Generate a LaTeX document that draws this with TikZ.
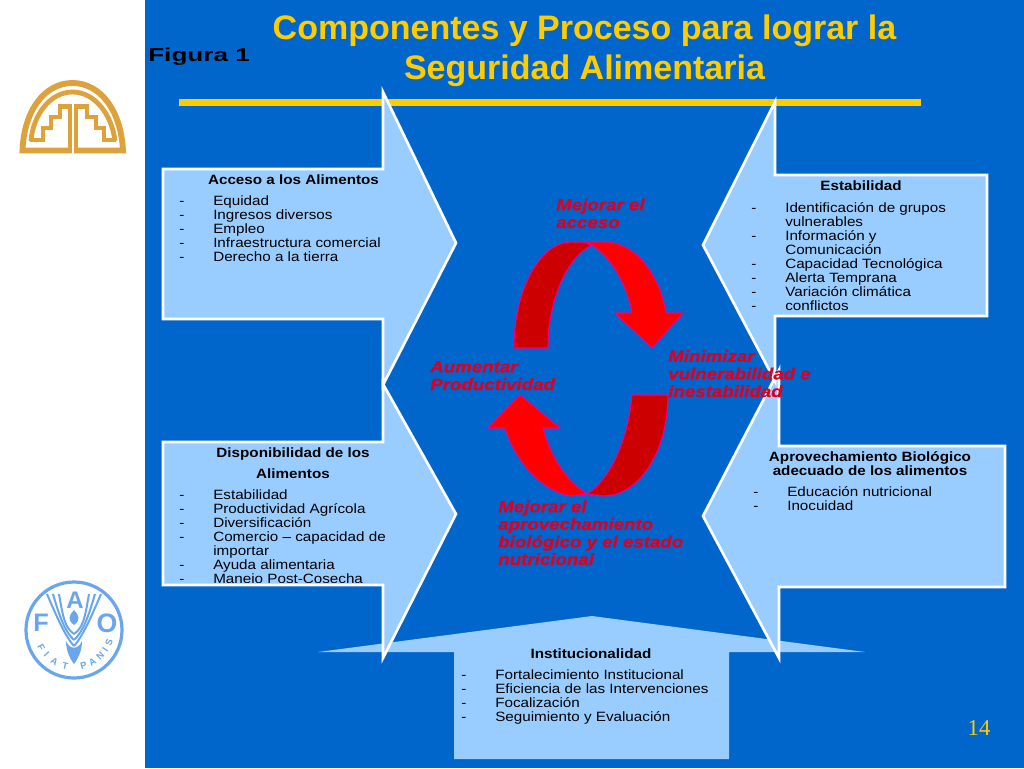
\documentclass[tikz,border=0pt]{standalone}
\usepackage{fontspec}
\setmainfont[FakeStretch=1.13]{Liberation Sans}
\newfontfamily\plainfamily{Liberation Sans}
\newfontfamily\redfamily[FakeStretch=1.15,FakeBold=0.5]{Liberation Sans}
\newfontfamily\figfamily[FakeStretch=1.4]{Liberation Sans}
\newfontfamily\numfamily{Liberation Serif}
\usetikzlibrary{positioning}
\definecolor{panelblue}{HTML}{0066CC}
\definecolor{lightblue}{HTML}{99CCFF}
\definecolor{gold}{HTML}{FFCC00}
\definecolor{canbrown}{HTML}{DDA23C}
\definecolor{faoblue}{HTML}{6AA6EC}
\definecolor{redtext}{HTML}{DC0022}
\definecolor{darkred}{HTML}{CC0000}
\newcommand{\foodlist}[1]{\begin{tabular}[t]{@{}p{25.5pt}@{}l@{}}#1\end{tabular}}
\tikzset{
x=0.75pt, y=-0.75pt, % one unit is one pixel of the reference
foodarrow/.style={fill=lightblue, draw=white, line width=2pt, miter limit=20},
headtext/.style={font=\fontsize{10.1}{10.5}\selectfont\bfseries, inner sep=0pt, anchor=base, align=center},
listtext/.style={font=\fontsize{10.1}{10.5}\selectfont, inner sep=0pt, anchor=base west},
actiontext/.style={font=\redfamily\fontsize{12.2}{13.2}\selectfont\bfseries\itshape, text=redtext, inner sep=0pt, anchor=base west, align=left},
redarrow/.style={draw=magenta, line width=0.8pt, line join=round},
canline/.style={draw=canbrown, line width=4.4pt},
faotext/.style={font=\plainfamily\bfseries, text=faoblue, inner sep=0pt},
faoline/.style={draw=faoblue, line width=1.5pt},
}

\begin{document}
\begin{tikzpicture}
  \useasboundingbox (0,0) rectangle (1024,768);
  \fill[white] (0,0) rectangle (1024,768);
  \fill[panelblue] (145,0) rectangle (1024,768);

  % title
  \node[font=\plainfamily\fontsize{25.5}{30}\selectfont\bfseries, text=gold, inner sep=0pt, anchor=base, align=center] (title) at (584.5,79) {Componentes y Proceso para lograr la\\Seguridad Alimentaria};
  \node[font=\figfamily\fontsize{14}{16}\selectfont\bfseries, text=black, inner sep=0pt, anchor=base west] (figura) at (148,61) {Figura 1};
  \fill[gold] (179,98.5) rectangle (921,105.5);

  % bottom arrow
  \fill[lightblue] (454,652) -- (318,652) -- (592,616) -- (865,652) -- (729,652) -- (729,759) -- (454,759) -- cycle;

  % four side arrows
  \draw[foodarrow] (163,169) -- (383,169) -- (383,92) -- (456,243) -- (383,385) -- (383,319) -- (163,319) -- cycle;
  \draw[foodarrow] (163,442) -- (383,442) -- (383,384) -- (456,514) -- (383,658) -- (383,585) -- (163,585) -- cycle;
  \draw[foodarrow] (1005,446) -- (779,446) -- (779,370) -- (703,516) -- (779,658) -- (779,587) -- (1005,587) -- cycle;
  \draw[foodarrow] (987,175) -- (775,175) -- (775,102) -- (703,245) -- (775,381) -- (775,316) -- (987,316) -- cycle;

  % circular red arrows
  \draw[redarrow, fill=darkred] (514,348) .. controls (514,285) and (543,242) .. (570,242) -- (585,242) -- (592,245) .. controls (570,255) and (548,295) .. (548,348) -- cycle;
  \draw[redarrow, fill=red] (592,245) -- (583,242) -- (605,242) .. controls (635,242) and (660,275) .. (666,313) -- (683,313) -- (652,348) -- (615,313) -- (632,313) .. controls (627,285) and (612,258) .. (592,245) -- cycle;
  \draw[redarrow, fill=darkred] (632,395) -- (668,395) .. controls (668,450) and (640,496) .. (603,496) -- (587,494) .. controls (610,480) and (628,440) .. (632,395) -- cycle;
  \draw[redarrow, fill=red] (587,494) -- (570,496) .. controls (540,490) and (515,460) .. (505,428) -- (488,428) -- (520,395) -- (560,428) -- (543,428) .. controls (550,455) and (565,480) .. (587,494) -- cycle;

  % box texts
  \node[headtext] (accesohead) at (293.5,184) {Acceso a los Alimentos};
  \node[listtext] (accesolist) at (179,205) {\foodlist{-&Equidad\\-&Ingresos diversos\\-&Empleo\\-&Infraestructura comercial\\-&Derecho a la tierra}};

  \node[headtext] (disphead) at (293,457) {Disponibilidad de los};
  \node[headtext] (disphead2) at (293,478) {Alimentos};
  \begin{scope}
    \clip (170,470) rectangle (400,582);
    \node[listtext] (displist) at (179,499) {\foodlist{-&Estabilidad\\-&Productividad Agrícola\\-&Diversificación\\-&Comercio -- capacidad de\\&importar\\-&Ayuda alimentaria\\-&Manejo Post-Cosecha}};
  \end{scope}

  \node[headtext] (estabhead) at (861,190) {Estabilidad};
  \node[listtext] (establist) at (751,212) {\foodlist{-&Identificación de grupos\\&vulnerables\\-&Información y\\&Comunicación\\-&Capacidad Tecnológica\\-&Alerta Temprana\\-&Variación climática\\-&conflictos}};

  \node[headtext] (aprovhead) at (870,475) {Aprovechamiento Biológico\\adecuado de los alimentos};
  \node[listtext] (aprovlist) at (753,496) {\foodlist{-&Educación nutricional\\-&Inocuidad}};

  \node[headtext] (insthead) at (591,658) {Institucionalidad};
  \node[listtext] (instlist) at (461,679) {\foodlist{-&Fortalecimiento Institucional\\-&Eficiencia de las Intervenciones\\-&Focalización\\-&Seguimiento y Evaluación}};

  % red labels
  \node[actiontext] (mejacceso) at (556,228) {Mejorar el\\acceso};
  \node[actiontext] (minimizar) at (668,397) {Minimizar\\vulnerabilidad e\\inestabilidad};
  \node[actiontext] (aumentar) at (430,390) {Aumentar\\Productividad};
  \node[actiontext] (mejbio) at (498,565) {Mejorar el\\aprovechamiento\\biológico y el estado\\nutricional};

  \node[font=\numfamily\fontsize{17}{17}\selectfont, text=gold, inner sep=0pt, anchor=base] (pagenum) at (979,735) {14};

  % left logo above
  \draw[canline] (22.5,150.5) .. controls (24,110) and (45,83) .. (72.5,83) .. controls (100,83) and (121,110) .. (123,150.5) -- cycle;
  \draw[canline, line width=3.6pt] (31,141) .. controls (33,115) and (50,92) .. (72.5,92) .. controls (95,92) and (112,115) .. (115,141);
  \draw[canline, line width=3.6pt] (30,140) -- (43,140) -- (43,128) -- (51,128) -- (51,117) -- (60,117) -- (60,106.5) -- (70,106.5) -- (70,152);
  \draw[canline, line width=3.6pt] (76,152) -- (76,106.5) -- (87,106.5) -- (87,117) -- (96,117) -- (96,128) -- (104,128) -- (104,140) -- (116,140);
  \draw[white, line width=1.2pt] (73,100) -- (73,155);

  % left logo below
  \node[draw=faoblue, line width=2.4pt, circle, minimum size=72pt, inner sep=0pt] (faoring) at (74,630) {};
  \node[faotext, font=\plainfamily\bfseries\fontsize{19}{19}\selectfont] (faoF) at (41,623) {F};
  \node[faotext, font=\plainfamily\bfseries\fontsize{18}{18}\selectfont] (faoA) at (75,600) {A};
  \node[faotext, font=\plainfamily\bfseries\fontsize{20}{20}\selectfont] (faoO) at (107,623) {O};
  \foreach \ch/\ang [count=\i] in {F/208,I/222,A/238,T/256,P/285,A/300,N/315,I/327,S/341} {
    \node[faotext, font=\plainfamily\bfseries\fontsize{7}{7}\selectfont, rotate=\ang+90] (faoletter\i) at ({74+37*cos(\ang)},{630-37*sin(\ang)}) {\ch};
  }
  \foreach \d in {0,6,12} {
    \draw[faoline] (47+\d,594) .. controls (56+\d*0.6,615+\d*0.3) and (65,636-\d*0.7) .. (74,646-\d);
    \draw[faoline] (101-\d,594) .. controls (92-\d*0.6,615+\d*0.3) and (83,636-\d*0.7) .. (74,646-\d);
  }
  \fill[faoblue] (66,641) .. controls (70,650) and (78,650) .. (82,641) .. controls (82,652) and (77,660) .. (74,664) .. controls (71,660) and (66,652) .. (66,641) -- cycle;
  \fill[faoblue] (74,610) .. controls (79,615) and (81,620) .. (74,625) .. controls (67,620) and (69,615) .. (74,610) -- cycle;
\end{tikzpicture}
\end{document}
